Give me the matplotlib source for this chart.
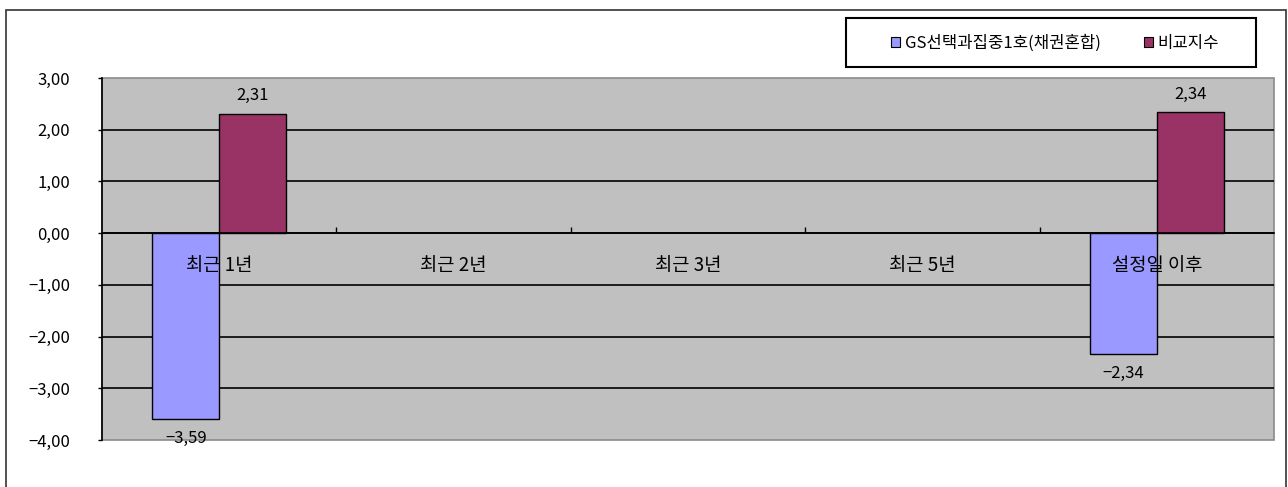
import numpy as np
import matplotlib
matplotlib.use("Agg")
import matplotlib.pyplot as plt
from matplotlib.patches import Rectangle, Patch
from matplotlib.ticker import FuncFormatter, FixedLocator

plt.rcParams['font.family'] = ['Noto Sans CJK KR', 'DejaVu Sans']

categories = ['최근 1년', '최근 2년', '최근 3년', '최근 5년', '설정일 이후']
series_names = ['GS선택과집중1호(채권혼합)', '비교지수']
fund_values = [-3.59, np.nan, np.nan, np.nan, -2.34]
index_values = [2.31, np.nan, np.nan, np.nan, 2.34]
y_ticks = [-4, -3, -2, -1, 0, 1, 2, 3]

colors = ['#9999FF', '#993366']

W, H = 1288, 487
fig = plt.figure(figsize=(W / 100, H / 100), dpi=100)
ax = fig.add_axes([102 / W, 1 - 440 / H, (1274 - 102) / W, (440 - 78) / H])
ax.set_facecolor('#C0C0C0')

def fmt(v):
    s = f"{abs(v):.2f}".replace('.', ',')
    return ('−' + s) if v < 0 else s

x = np.arange(len(categories))
bw = 1 / 3.5
b1 = ax.bar(x - bw / 2, fund_values, bw, color=colors[0], edgecolor='black', linewidth=1, zorder=2)
b2 = ax.bar(x + bw / 2, index_values, bw, color=colors[1], edgecolor='black', linewidth=1, zorder=2)

for bars, vals in ((b1, fund_values), (b2, index_values)):
    for rect, v in zip(bars, vals):
        if np.isnan(v):
            continue
        cx = rect.get_x() + rect.get_width() / 2
        off = 13 if v > 0 else -14
        ax.annotate(fmt(v), (cx, v), xytext=(0, off), textcoords='offset points',
                    ha='center', va='center', fontsize=12, color='black', zorder=5,
                    annotation_clip=False)

ax.set_xlim(-0.5, len(categories) - 0.5)
ax.set_ylim(min(y_ticks), max(y_ticks))
ax.set_yticks(y_ticks)
ax.yaxis.set_major_formatter(FuncFormatter(lambda v, p: fmt(v)))
ax.tick_params(axis='y', direction='out', length=3, width=1, pad=20, labelsize=12, colors='black')

for v in y_ticks[1:-1]:
    ax.axhline(v, color='black', linewidth=1.2, zorder=1)

ax.spines['bottom'].set_position(('data', 0))
ax.spines['bottom'].set_color('black')
ax.spines['bottom'].set_linewidth(1.2)
ax.spines['left'].set_color('black')
ax.spines['left'].set_linewidth(1.2)
for s in ('top', 'right'):
    ax.spines[s].set_visible(False)
ax.add_patch(Rectangle((0, 0), 1, 1, transform=ax.transAxes, facecolor='none',
                       edgecolor='#8a8a8a', linewidth=1.2, zorder=0.5, clip_on=False))

ax.set_axisbelow(False)
ax.set_xticks(x)
ax.set_xticklabels(categories, fontsize=13.5)
ax.tick_params(axis='x', which='major', length=0, pad=16)
ax.xaxis.set_minor_locator(FixedLocator(x[:-1] + 0.5))
ax.tick_params(axis='x', which='minor', direction='in', length=4, width=1, color='black')

# outer chart border
fig.patches.append(Rectangle((6 / W, -0.05), (1286 - 6) / W, 1.05 - 10 / H,
                             transform=fig.transFigure, facecolor='none',
                             edgecolor='#333333', linewidth=1.2))
# legend box
fig.patches.append(Rectangle((846 / W, 1 - 67 / H), (1256 - 846) / W, (67 - 18) / H,
                             transform=fig.transFigure, facecolor='white',
                             edgecolor='black', linewidth=1.5, zorder=2))
handles = [Patch(facecolor=c, edgecolor='black', linewidth=0.8) for c in colors]
fig.legend(handles, series_names, loc='center', bbox_to_anchor=(1055 / W, 1 - 43 / H),
           ncol=2, frameon=False, fontsize=12, handlelength=0.55, handleheight=0.55,
           handletextpad=0.25, columnspacing=2.6)

fig.savefig('out.png', dpi=100)
